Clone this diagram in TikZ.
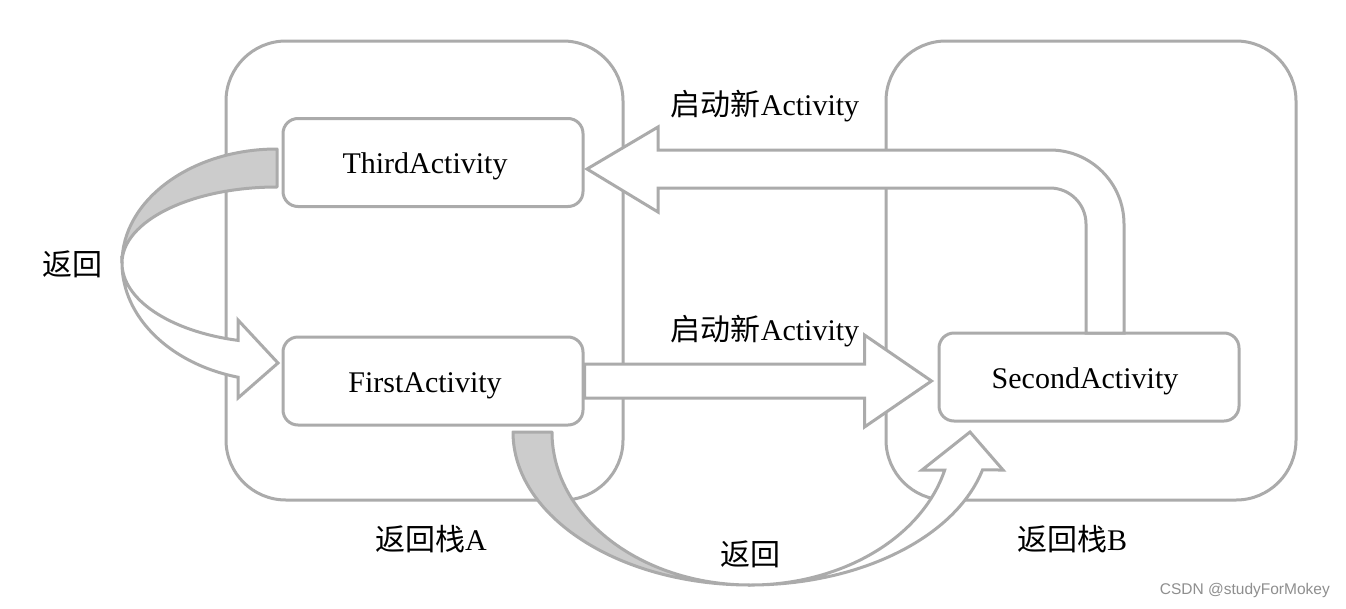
\documentclass[tikz,border=0pt]{standalone}
\usepackage{fontspec}
\setmainfont{Liberation Serif}
\newfontfamily\cjk{Noto Sans CJK SC}
\newfontfamily\wmfont{Liberation Sans}
\usetikzlibrary{calc}
\definecolor{lg}{HTML}{ABABAB}
\definecolor{gf}{HTML}{CCCCCC}
\definecolor{wm}{HTML}{8F8F8F}
\begin{document}
\begin{tikzpicture}[x=1pt,y=1pt,
  stackbox/.style={draw=lg, line width=3pt, fill=white, rounded corners=60pt, inner sep=0pt},
  actbox/.style={draw=lg, line width=3pt, fill=white, rounded corners=15pt, minimum width=300pt, minimum height=88pt, inner sep=0pt, text height=26pt, text depth=4pt, font=\fontsize{30}{36}\selectfont},
  lbl/.style={inner sep=0pt, font=\fontsize{30}{36}\selectfont},
  blockw/.style={draw=lg, line width=3pt, fill=white, line join=miter},
  blockg/.style={draw=lg, line width=3pt, fill=gf, line join=round}]
\useasboundingbox (0,0) rectangle (1346,-608);
\fill[white] (0,0) rectangle (1346,-608);
% stacks
\node[stackbox, minimum width=397pt, minimum height=459pt] (stackA) at (424.5,-270.5) {};
\node[stackbox, minimum width=410pt, minimum height=459pt] (stackB) at (1091,-270.5) {};
% activities
\node[actbox] (third) at (433,-162.5) {\kern-16pt ThirdActivity};
\node[actbox] (first) at (433,-381) {\kern-16pt FirstActivity};
\node[actbox] (second) at (1089,-377) {\kern-8pt SecondActivity};
% middle block arrow: first -> second
\coordinate (m0) at (first.east);
\coordinate (mtip) at ($(second.west|-first.east)+(-6,0)$);
\draw[blockw] ($(m0)+(0,17)$) -- ($(mtip)+(-67,17)$) -- ($(mtip)+(-67,46)$) -- (mtip)
  -- ($(mtip)+(-67,-46)$) -- ($(mtip)+(-67,-17)$) -- ($(m0)+(0,-17)$) -- cycle;
% top block arrow: second -> third
\draw[blockw] (1124,-333) -- (1124,-224) arc[start angle=0,end angle=90,radius=74pt]
  -- (658,-150) -- (658,-127) -- (587,-169) -- (658,-212) -- (658,-188) -- (1050,-188)
  arc[start angle=90,end angle=0,radius=36pt] -- (1086,-333) -- cycle;
% left curved arrow: third -> first
\draw[blockg] (277,-149) arc[start angle=90,end angle=180,x radius=155pt,y radius=114pt]
  arc[start angle=180,end angle=90,x radius=155pt,y radius=76pt] -- cycle;
\draw[blockw] (122,-263) arc[start angle=180,end angle=255.43,x radius=155pt,y radius=118pt]
  -- (238,-398) -- (278,-363) -- (238,-320) -- (238,-340.4)
  arc[start angle=255.43,end angle=180,x radius=155pt,y radius=80pt] -- cycle;
% bottom curved arrow: first -> second
\draw[blockg] (513,-432) arc[start angle=180,end angle=270,x radius=237pt,y radius=153pt]
  arc[start angle=270,end angle=180,x radius=198pt,y radius=153pt] -- cycle;
\draw[blockw] (750,-585) arc[start angle=270,end angle=345.63,x radius=240pt,y radius=153pt]
  -- (1003,-470) -- (970,-432) -- (922,-470) -- (944.7,-470)
  arc[start angle=345.63,end angle=270,x radius=201pt,y radius=153pt] -- cycle;
% labels
\node[lbl] (backL) at (72,-264) {\cjk 返回};
\node[lbl] (backB) at (750,-554) {\cjk 返回};
\node[lbl] (labA) at (431,-539) {{\cjk 返回栈}A};
\node[lbl] (labB) at (1072,-539) {{\cjk 返回栈}B};
\node[lbl] (newT) at (765,-106) {{\cjk 启动新}Activity};
\node[lbl] (newM) at (765,-331) {{\cjk 启动新}Activity};
\node[font=\wmfont\fontsize{15.5}{19}\selectfont, text=wm, inner sep=0pt, anchor=east] (wmark) at (1330,-590) {CSDN @studyForMokey};
\end{tikzpicture}
\end{document}
